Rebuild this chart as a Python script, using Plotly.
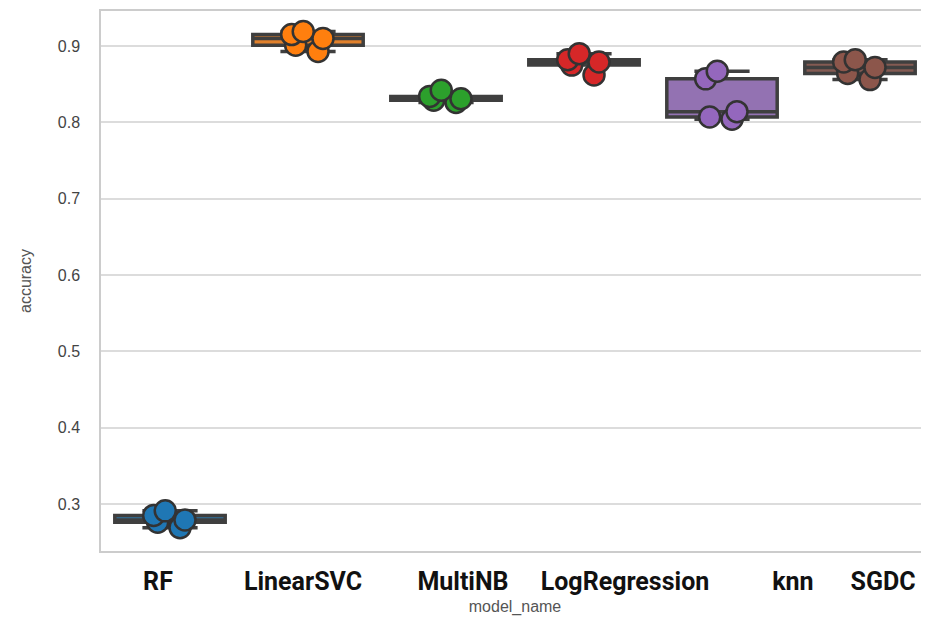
import plotly.graph_objects as go

model_names = ["RF", "LinearSVC", "MultiNB", "LogRegression", "knn", "SGDC"]
tick_positions = [-0.087, 0.964, 2.123, 3.297, 4.514, 5.167]

acc_rf = [0.269, 0.276, 0.279, 0.285, 0.291]
acc_linearsvc = [0.893, 0.901, 0.910, 0.915, 0.919]
acc_multinb = [0.826, 0.829, 0.831, 0.834, 0.842]
acc_logreg = [0.862, 0.875, 0.879, 0.882, 0.890]
acc_knn = [0.804, 0.807, 0.814, 0.857, 0.867]
acc_sgdc = [0.856, 0.864, 0.872, 0.879, 0.882]

y_ticks = [0.3, 0.4, 0.5, 0.6, 0.7, 0.8, 0.9]
y_tick_text = ["0.3", "0.4", "0.5", "0.6", "0.7", "0.8", "0.9"]

series = [acc_rf, acc_linearsvc, acc_multinb, acc_logreg, acc_knn, acc_sgdc]
box_colors = ["#3274a1", "#e1812c", "#3a923a", "#c03d3e", "#9372b2", "#845b53"]
point_colors = ["#1f77b4", "#ff7f0e", "#2ca02c", "#d62728", "#9467bd", "#8c564b"]

fig = go.Figure()
for i, (name, vals) in enumerate(zip(model_names, series)):
    fig.add_trace(go.Box(
        x=[i] * len(vals),
        y=vals,
        name=name,
        width=0.8,
        fillcolor=box_colors[i],
        line=dict(color="#3f3f3f", width=3.5),
        whiskerwidth=0.5,
        boxpoints="all",
        jitter=0.35,
        pointpos=0,
        quartilemethod="inclusive",
        marker=dict(color=point_colors[i], size=21,
                    line=dict(color="#333333", width=2.5)),
        showlegend=False,
    ))

fig.update_layout(
    width=921, height=608,
    margin=dict(l=93, r=0, t=3, b=65, autoexpand=False),
    paper_bgcolor="white",
    plot_bgcolor="white",
    font=dict(family="Liberation Sans, Arial, sans-serif", color="#444444"),
    xaxis=dict(
        range=[-0.5, 5.5],
        tickmode="array",
        tickvals=tick_positions,
        ticktext=model_names,
        tickangle=0,
        automargin=False,
        tickfont=dict(family="Roboto, sans-serif",
                      size=25, color="#111111", weight="bold"),
        ticklabelstandoff=7,
        showgrid=False,
        zeroline=False,
        showline=True, linecolor="#cccccc", linewidth=1.5, mirror=True,
        title=dict(text="model_name", font=dict(size=16, color="#555555"), standoff=10),
    ),
    yaxis=dict(
        range=[0.2384, 0.9459],
        tickmode="array",
        tickvals=y_ticks,
        ticktext=y_tick_text,
        automargin=False,
        tickfont=dict(size=16, color="#444444"),
        ticklabelstandoff=16,
        showgrid=True, gridcolor="#dcdcdc", gridwidth=1.5,
        zeroline=False,
        showline=True, linecolor="#cccccc", linewidth=1.5,
        title=dict(text="accuracy", font=dict(size=16, color="#555555"), standoff=22),
    ),
)

fig.write_html("out.html")
